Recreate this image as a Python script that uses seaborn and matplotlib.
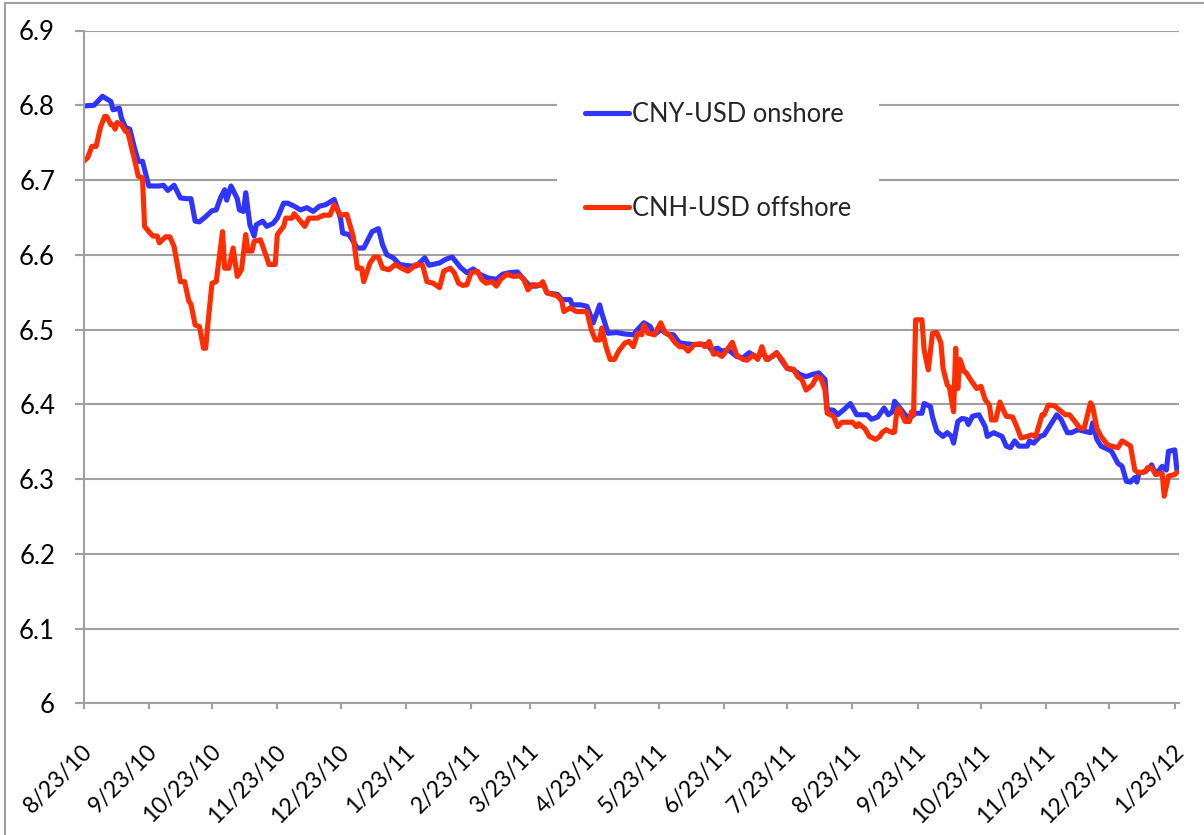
"""
CNY vs CNH against USD, Aug 2010 - Jan 2012.
"""

import pandas as pd
import matplotlib.pyplot as plt
import matplotlib.dates as mdates
import matplotlib.transforms as mtransforms
from matplotlib.lines import Line2D
import seaborn as sns

# ─── DATA (days after 2010-08-23, rate) ──────────────────────────────────────
START = "2010-08-23"

cny_day = [0, 5, 9, 13, 14, 17, 18, 20, 22, 24, 26, 28, 30, 31, 36, 38, 40, 43, 46, 49,
           51, 53, 55, 58, 61, 63, 65, 67, 68, 70, 73, 74, 76, 77, 79, 81, 82, 85, 87, 90,
           92, 95, 97, 100, 103, 106, 109, 112, 115, 119, 122, 123, 126, 130, 133, 137, 140, 142, 144, 147,
           150, 155, 158, 162, 164, 169, 172, 175, 179, 182, 185, 188, 192, 196, 199, 202, 206, 209, 212, 215,
           218, 220, 225, 227, 231, 232, 236, 239, 242, 245, 246, 249, 253, 257, 261, 263, 266, 269, 271, 274,
           277, 280, 283, 286, 289, 292, 296, 298, 301, 303, 306, 310, 313, 316, 320, 322, 325, 329, 331, 334,
           337, 340, 343, 346, 349, 352, 353, 356, 358, 361, 364, 367, 372, 374, 377, 380, 382, 384, 385, 387,
           390, 392, 395, 398, 399, 402, 403, 405, 408, 410, 412, 413, 415, 417, 419, 420, 422, 425, 428, 429,
           432, 436, 438, 440, 442, 444, 448, 449, 451, 454, 456, 458, 460, 462, 464, 467, 469, 472, 475, 478,
           479, 481, 483, 486, 488, 491, 493, 495, 497, 499, 500, 501, 504, 506, 507, 509, 512, 514, 515, 518,
           519]
cny_val = [6.799, 6.800, 6.812, 6.805, 6.794, 6.796, 6.783, 6.770, 6.768, 6.745, 6.725, 6.725, 6.703, 6.692, 6.692, 6.693, 6.686, 6.693, 6.676, 6.675,
           6.675, 6.645, 6.644, 6.651, 6.659, 6.660, 6.676, 6.687, 6.673, 6.692, 6.675, 6.660, 6.658, 6.683, 6.640, 6.625, 6.640, 6.645, 6.638, 6.642,
           6.649, 6.669, 6.669, 6.665, 6.660, 6.663, 6.658, 6.665, 6.667, 6.674, 6.649, 6.629, 6.627, 6.609, 6.609, 6.631, 6.635, 6.613, 6.600, 6.596,
           6.587, 6.585, 6.585, 6.596, 6.586, 6.589, 6.594, 6.597, 6.583, 6.576, 6.581, 6.574, 6.569, 6.567, 6.574, 6.576, 6.577, 6.567, 6.558, 6.558,
           6.562, 6.549, 6.547, 6.540, 6.540, 6.533, 6.533, 6.531, 6.509, 6.533, 6.522, 6.495, 6.496, 6.494, 6.493, 6.500, 6.509, 6.504, 6.493, 6.500,
           6.494, 6.493, 6.482, 6.481, 6.480, 6.480, 6.480, 6.473, 6.475, 6.471, 6.473, 6.464, 6.462, 6.469, 6.462, 6.469, 6.460, 6.469, 6.460, 6.448,
           6.446, 6.440, 6.437, 6.440, 6.442, 6.433, 6.393, 6.392, 6.386, 6.393, 6.401, 6.386, 6.386, 6.380, 6.383, 6.395, 6.386, 6.390, 6.404, 6.397,
           6.386, 6.381, 6.388, 6.388, 6.401, 6.397, 6.383, 6.364, 6.357, 6.362, 6.357, 6.348, 6.377, 6.381, 6.380, 6.373, 6.384, 6.386, 6.370, 6.357,
           6.362, 6.357, 6.344, 6.342, 6.351, 6.344, 6.344, 6.351, 6.348, 6.357, 6.359, 6.368, 6.377, 6.386, 6.380, 6.362, 6.362, 6.366, 6.364, 6.362,
           6.375, 6.353, 6.344, 6.340, 6.337, 6.321, 6.317, 6.297, 6.296, 6.302, 6.296, 6.308, 6.310, 6.315, 6.319, 6.306, 6.317, 6.312, 6.337, 6.339,
           6.312]

cnh_day = [0, 2, 4, 6, 8, 10, 11, 13, 14, 15, 16, 18, 20, 21, 23, 24, 26, 28, 29, 31,
           33, 35, 36, 39, 41, 43, 46, 48, 50, 51, 53, 55, 57, 58, 59, 61, 63, 65, 66, 67,
           69, 71, 73, 75, 77, 78, 80, 81, 84, 87, 88, 91, 92, 95, 96, 99, 100, 103, 105, 107,
           111, 114, 117, 119, 122, 125, 128, 130, 132, 133, 136, 138, 140, 142, 145, 148, 151, 154, 158, 161,
           163, 166, 169, 171, 174, 176, 178, 180, 182, 184, 187, 189, 191, 194, 196, 198, 201, 204, 207, 209,
           211, 213, 217, 218, 220, 225, 227, 228, 231, 234, 239, 241, 243, 245, 246, 248, 250, 252, 254, 257,
           259, 261, 263, 265, 266, 268, 271, 274, 276, 278, 281, 283, 285, 287, 290, 293, 295, 297, 299, 301,
           303, 305, 308, 310, 313, 315, 318, 320, 322, 324, 327, 329, 332, 334, 337, 339, 341, 343, 346, 348,
           350, 352, 353, 356, 358, 360, 365, 367, 368, 371, 373, 376, 378, 379, 381, 384, 385, 386, 387, 390,
           392, 393, 394, 395, 398, 399, 401, 403, 405, 407, 408, 410, 411, 413, 414, 415, 416, 418, 419, 421,
           424, 426, 428, 430, 431, 433, 435, 437, 438, 441, 443, 445, 448, 450, 452, 455, 456, 458, 461, 463,
           466, 468, 470, 473, 475, 478, 479, 481, 483, 486, 488, 491, 493, 496, 497, 499, 501, 504, 505, 507,
           509, 512, 513, 515, 518, 519]
cnh_val = [6.725, 6.730, 6.745, 6.745, 6.770, 6.785, 6.785, 6.774, 6.774, 6.768, 6.777, 6.774, 6.765, 6.765, 6.741, 6.730, 6.705, 6.703, 6.638, 6.631,
           6.625, 6.625, 6.616, 6.624, 6.624, 6.611, 6.564, 6.564, 6.538, 6.534, 6.506, 6.504, 6.475, 6.475, 6.506, 6.562, 6.564, 6.609, 6.631, 6.582,
           6.582, 6.609, 6.571, 6.580, 6.627, 6.605, 6.605, 6.618, 6.620, 6.596, 6.587, 6.587, 6.627, 6.638, 6.649, 6.649, 6.655, 6.645, 6.638, 6.649,
           6.649, 6.653, 6.653, 6.667, 6.653, 6.654, 6.625, 6.582, 6.582, 6.564, 6.589, 6.597, 6.597, 6.582, 6.580, 6.587, 6.582, 6.578, 6.587, 6.586,
           6.564, 6.562, 6.556, 6.578, 6.582, 6.576, 6.562, 6.559, 6.560, 6.576, 6.578, 6.567, 6.562, 6.564, 6.558, 6.567, 6.574, 6.571, 6.572, 6.567,
           6.553, 6.560, 6.559, 6.564, 6.549, 6.545, 6.538, 6.524, 6.529, 6.524, 6.524, 6.500, 6.486, 6.486, 6.502, 6.477, 6.460, 6.460, 6.471, 6.482,
           6.484, 6.477, 6.495, 6.493, 6.506, 6.495, 6.493, 6.509, 6.496, 6.493, 6.482, 6.477, 6.477, 6.471, 6.480, 6.481, 6.477, 6.484, 6.467, 6.468,
           6.464, 6.471, 6.483, 6.466, 6.460, 6.459, 6.466, 6.460, 6.477, 6.460, 6.464, 6.469, 6.458, 6.448, 6.447, 6.437, 6.433, 6.419, 6.426, 6.437,
           6.435, 6.419, 6.388, 6.384, 6.370, 6.376, 6.376, 6.370, 6.374, 6.367, 6.357, 6.353, 6.357, 6.362, 6.366, 6.362, 6.363, 6.390, 6.395, 6.377,
           6.377, 6.390, 6.386, 6.513, 6.513, 6.473, 6.446, 6.495, 6.496, 6.482, 6.448, 6.426, 6.423, 6.390, 6.475, 6.421, 6.460, 6.444, 6.442, 6.433,
           6.421, 6.424, 6.406, 6.399, 6.379, 6.379, 6.403, 6.390, 6.384, 6.383, 6.370, 6.355, 6.357, 6.359, 6.357, 6.386, 6.386, 6.399, 6.398, 6.393,
           6.386, 6.386, 6.379, 6.368, 6.368, 6.402, 6.397, 6.368, 6.357, 6.346, 6.344, 6.342, 6.351, 6.346, 6.344, 6.312, 6.308, 6.310, 6.315, 6.315,
           6.306, 6.308, 6.277, 6.304, 6.306, 6.309]

labels = ["CNY-USD onshore", "CNH-USD offshore"]
colors = ["#3034ff", "#ff2d00"]
y_ticks = [6, 6.1, 6.2, 6.3, 6.4, 6.5, 6.6, 6.7, 6.8, 6.9]
y_tick_labels = ["6", "6.1", "6.2", "6.3", "6.4", "6.5", "6.6", "6.7", "6.8", "6.9"]

# ─── STYLE ───────────────────────────────────────────────────────────────────
sns.set_theme(style="white")
plt.rcParams["font.family"] = ["Lato", "DejaVu Sans"]
GRID = "#a0a0a0"

start = pd.Timestamp(START)
cny = pd.DataFrame({"date": start + pd.to_timedelta(cny_day, unit="D"), "rate": cny_val})
cnh = pd.DataFrame({"date": start + pd.to_timedelta(cnh_day, unit="D"), "rate": cnh_val})

W, H = 1204, 835
fig = plt.figure(figsize=(W / 100, H / 100), dpi=100)
ax = fig.add_axes([83.5 / W, 1 - 703.3 / H, (1179 - 83.5) / W, (703.3 - 30.5) / H])

sns.lineplot(data=cny, x="date", y="rate", ax=ax, color=colors[0], lw=3.7, label=labels[0])
sns.lineplot(data=cnh, x="date", y="rate", ax=ax, color=colors[1], lw=3.7, label=labels[1])

ax.set_xlim(pd.Timestamp("2010-08-23"), pd.Timestamp("2012-01-25"))
ax.set_ylim(6.0, 6.9)
ax.set_yticks(y_ticks)
ax.set_yticklabels(y_tick_labels)
ax.xaxis.set_major_locator(mdates.MonthLocator(bymonthday=23))
ax.xaxis.set_major_formatter(
    plt.FuncFormatter(lambda v, _: (lambda d: f"{d.month}/{d.day}/{d:%y}")(mdates.num2date(v)))
)
ax.set_xlabel("")
ax.set_ylabel("")

ax.grid(axis="y", color=GRID, lw=1.5)
ax.grid(axis="x", visible=False)
ax.set_axisbelow(True)
for side in ["top", "right"]:
    ax.spines[side].set_visible(False)
for side in ["left", "bottom"]:
    ax.spines[side].set_color(GRID)
    ax.spines[side].set_linewidth(1.5)

ax.tick_params(axis="y", direction="out", length=6.5, width=1.5, color=GRID,
               left=True, labelsize=18.5, pad=14, labelcolor="black")
ax.tick_params(axis="x", direction="out", length=4.5, width=1.5, color=GRID,
               bottom=True, labelsize=16.5, pad=28, labelcolor="black", labelrotation=45)
shift = mtransforms.ScaledTranslation(4 / 72, 0, fig.dpi_scale_trans)
for t in ax.get_xticklabels():
    t.set_ha("right")
    t.set_va("center")
    t.set_rotation_mode("anchor")
    t.set_transform(t.get_transform() + shift)

# legend sits inside the plot on a white box, no frame
leg = ax.legend(loc="center", bbox_to_anchor=(718 / W, 1 - 161 / H),
                bbox_transform=fig.transFigure, frameon=True, fancybox=False,
                fontsize=18.4, handlelength=1.7, handletextpad=0.12,
                labelspacing=2.7, borderpad=1.1)
leg.get_frame().set_facecolor("white")
leg.get_frame().set_edgecolor("none")
leg.get_frame().set_alpha(1)
for h in leg.get_lines():
    h.set_linewidth(3.7)

# chart area border (left and top edges show in the picture)
fig.add_artist(Line2D([5 / W, 5 / W], [0, 1 - 3 / H], color=GRID, lw=1.5))
fig.add_artist(Line2D([5 / W, 1], [1 - 3 / H, 1 - 3 / H], color=GRID, lw=1.5))

fig.savefig("out.png", dpi=100)
plt.close(fig)
